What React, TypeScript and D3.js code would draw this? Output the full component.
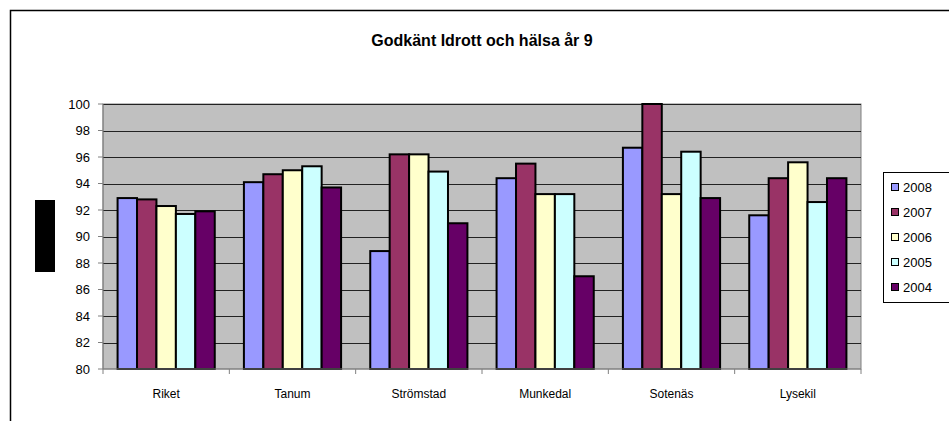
import { useEffect, useRef } from 'react';
import * as d3 from 'd3';

const categories = ['Riket', 'Tanum', 'Strömstad', 'Munkedal', 'Sotenäs', 'Lysekil'];
const years = ['2008', '2007', '2006', '2005', '2004'];
const colors = ['#9999FF', '#993366', '#FFFFCC', '#CCFFFF', '#660066'];

const v2008 = [92.9, 94.1, 88.9, 94.4, 96.7, 91.6];
const v2007 = [92.8, 94.7, 96.2, 95.5, 100, 94.4];
const v2006 = [92.3, 95.0, 96.2, 93.2, 93.2, 95.6];
const v2005 = [91.7, 95.3, 94.9, 93.2, 96.4, 92.6];
const v2004 = [91.9, 93.7, 91.0, 87.0, 92.9, 94.4];
const series = [v2008, v2007, v2006, v2005, v2004];

const yTicks = [80, 82, 84, 86, 88, 90, 92, 94, 96, 98, 100];

export default function App() {
  const svgRef = useRef<SVGSVGElement>(null);
  const width = 949;
  const height = 421;

  useEffect(() => {
    if (!svgRef.current) return;
    const svg = d3.select(svgRef.current);
    svg.selectAll("*").remove();

    const font = "'Liberation Sans', Arial, sans-serif";
    const plot = { left: 103, right: 861, top: 104, bottom: 369 };

    // chart frame (right and bottom edges fall outside the picture)
    svg.append("path")
      .attr("d", `M10.5,${height + 5} L10.5,10.5 L${width + 5},10.5`)
      .attr("fill", "none")
      .attr("stroke", "#000")
      .attr("stroke-width", 1.5);

    svg.append("text")
      .attr("x", 482)
      .attr("y", 46)
      .attr("text-anchor", "middle")
      .style("font-family", font)
      .style("font-weight", "bold")
      .style("font-size", "16px")
      .text("Godkänt Idrott och hälsa år 9");

    const x0 = d3.scaleBand().domain(categories).range([plot.left, plot.right]);
    const barW = x0.bandwidth() / (years.length + 1.5);
    const y = d3.scaleLinear().domain([80, 100]).range([plot.bottom, plot.top]);

    svg.append("rect")
      .attr("x", plot.left)
      .attr("y", plot.top)
      .attr("width", plot.right - plot.left)
      .attr("height", plot.bottom - plot.top)
      .attr("fill", "#C0C0C0")
      .attr("stroke", "#808080");

    // gridlines
    svg.selectAll(".grid")
      .data(yTicks.slice(1))
      .enter().append("line")
      .attr("x1", plot.left)
      .attr("x2", plot.right)
      .attr("y1", d => Math.round(y(d)) + 0.5)
      .attr("y2", d => Math.round(y(d)) + 0.5)
      .attr("stroke", "#222")
      .attr("stroke-width", 1);

    // bars
    series.forEach((vals, si) => {
      svg.append("g")
        .selectAll("rect")
        .data(vals)
        .enter().append("rect")
        .attr("x", (d, i) => (x0(categories[i]) ?? 0) + barW * 0.75 + si * barW)
        .attr("y", d => y(d))
        .attr("width", barW)
        .attr("height", d => plot.bottom - y(d))
        .attr("fill", colors[si])
        .attr("stroke", "#000")
        .attr("stroke-width", 2);
    });

    // axes
    svg.append("line")
      .attr("x1", plot.left).attr("x2", plot.left)
      .attr("y1", plot.top).attr("y2", plot.bottom)
      .attr("stroke", "#808080");
    svg.append("line")
      .attr("x1", plot.left).attr("x2", plot.right)
      .attr("y1", plot.bottom).attr("y2", plot.bottom)
      .attr("stroke", "#808080");

    const yt = svg.append("g");
    yt.selectAll("line")
      .data(yTicks)
      .enter().append("line")
      .attr("x1", plot.left - 5).attr("x2", plot.left)
      .attr("y1", d => y(d)).attr("y2", d => y(d))
      .attr("stroke", "#808080");
    yt.selectAll("text")
      .data(yTicks)
      .enter().append("text")
      .attr("x", 90)
      .attr("y", d => y(d))
      .attr("dy", "0.35em")
      .attr("text-anchor", "end")
      .style("font-family", font)
      .style("font-size", "13px")
      .text(d => d);

    svg.selectAll(".xtick")
      .data(categories.concat(["end"]))
      .enter().append("line")
      .attr("x1", (d, i) => plot.left + i * x0.step())
      .attr("x2", (d, i) => plot.left + i * x0.step())
      .attr("y1", plot.bottom).attr("y2", plot.bottom + 5)
      .attr("stroke", "#808080");

    svg.selectAll(".xlabel")
      .data(categories)
      .enter().append("text")
      .attr("x", d => (x0(d) ?? 0) + x0.bandwidth() / 2)
      .attr("y", 398)
      .attr("text-anchor", "middle")
      .style("font-family", font)
      .style("font-size", "12px")
      .text(d => d);

    // black block left of the axis
    svg.append("rect")
      .attr("x", 35).attr("y", 200)
      .attr("width", 20).attr("height", 72)
      .attr("fill", "#000");

    // legend
    const lg = svg.append("g");
    lg.append("rect")
      .attr("x", 883.5).attr("y", 172.5)
      .attr("width", 80).attr("height", 130)
      .attr("fill", "#fff")
      .attr("stroke", "#000");
    years.forEach((yr, i) => {
      const cy = 187 + i * 25;
      lg.append("rect")
        .attr("x", 891.5).attr("y", cy - 3.5)
        .attr("width", 7).attr("height", 7)
        .attr("fill", colors[i])
        .attr("stroke", "#000");
      lg.append("text")
        .attr("x", 903).attr("y", cy)
        .attr("dy", "0.35em")
        .style("font-family", font)
        .style("font-size", "13px")
        .text(yr);
    });
  }, []);

  return (
    <svg
      ref={svgRef}
      width={width}
      height={height}
      style={{ position: 'fixed', top: 0, left: 0, display: 'block', background: '#fff' }}
    />
  );
}
